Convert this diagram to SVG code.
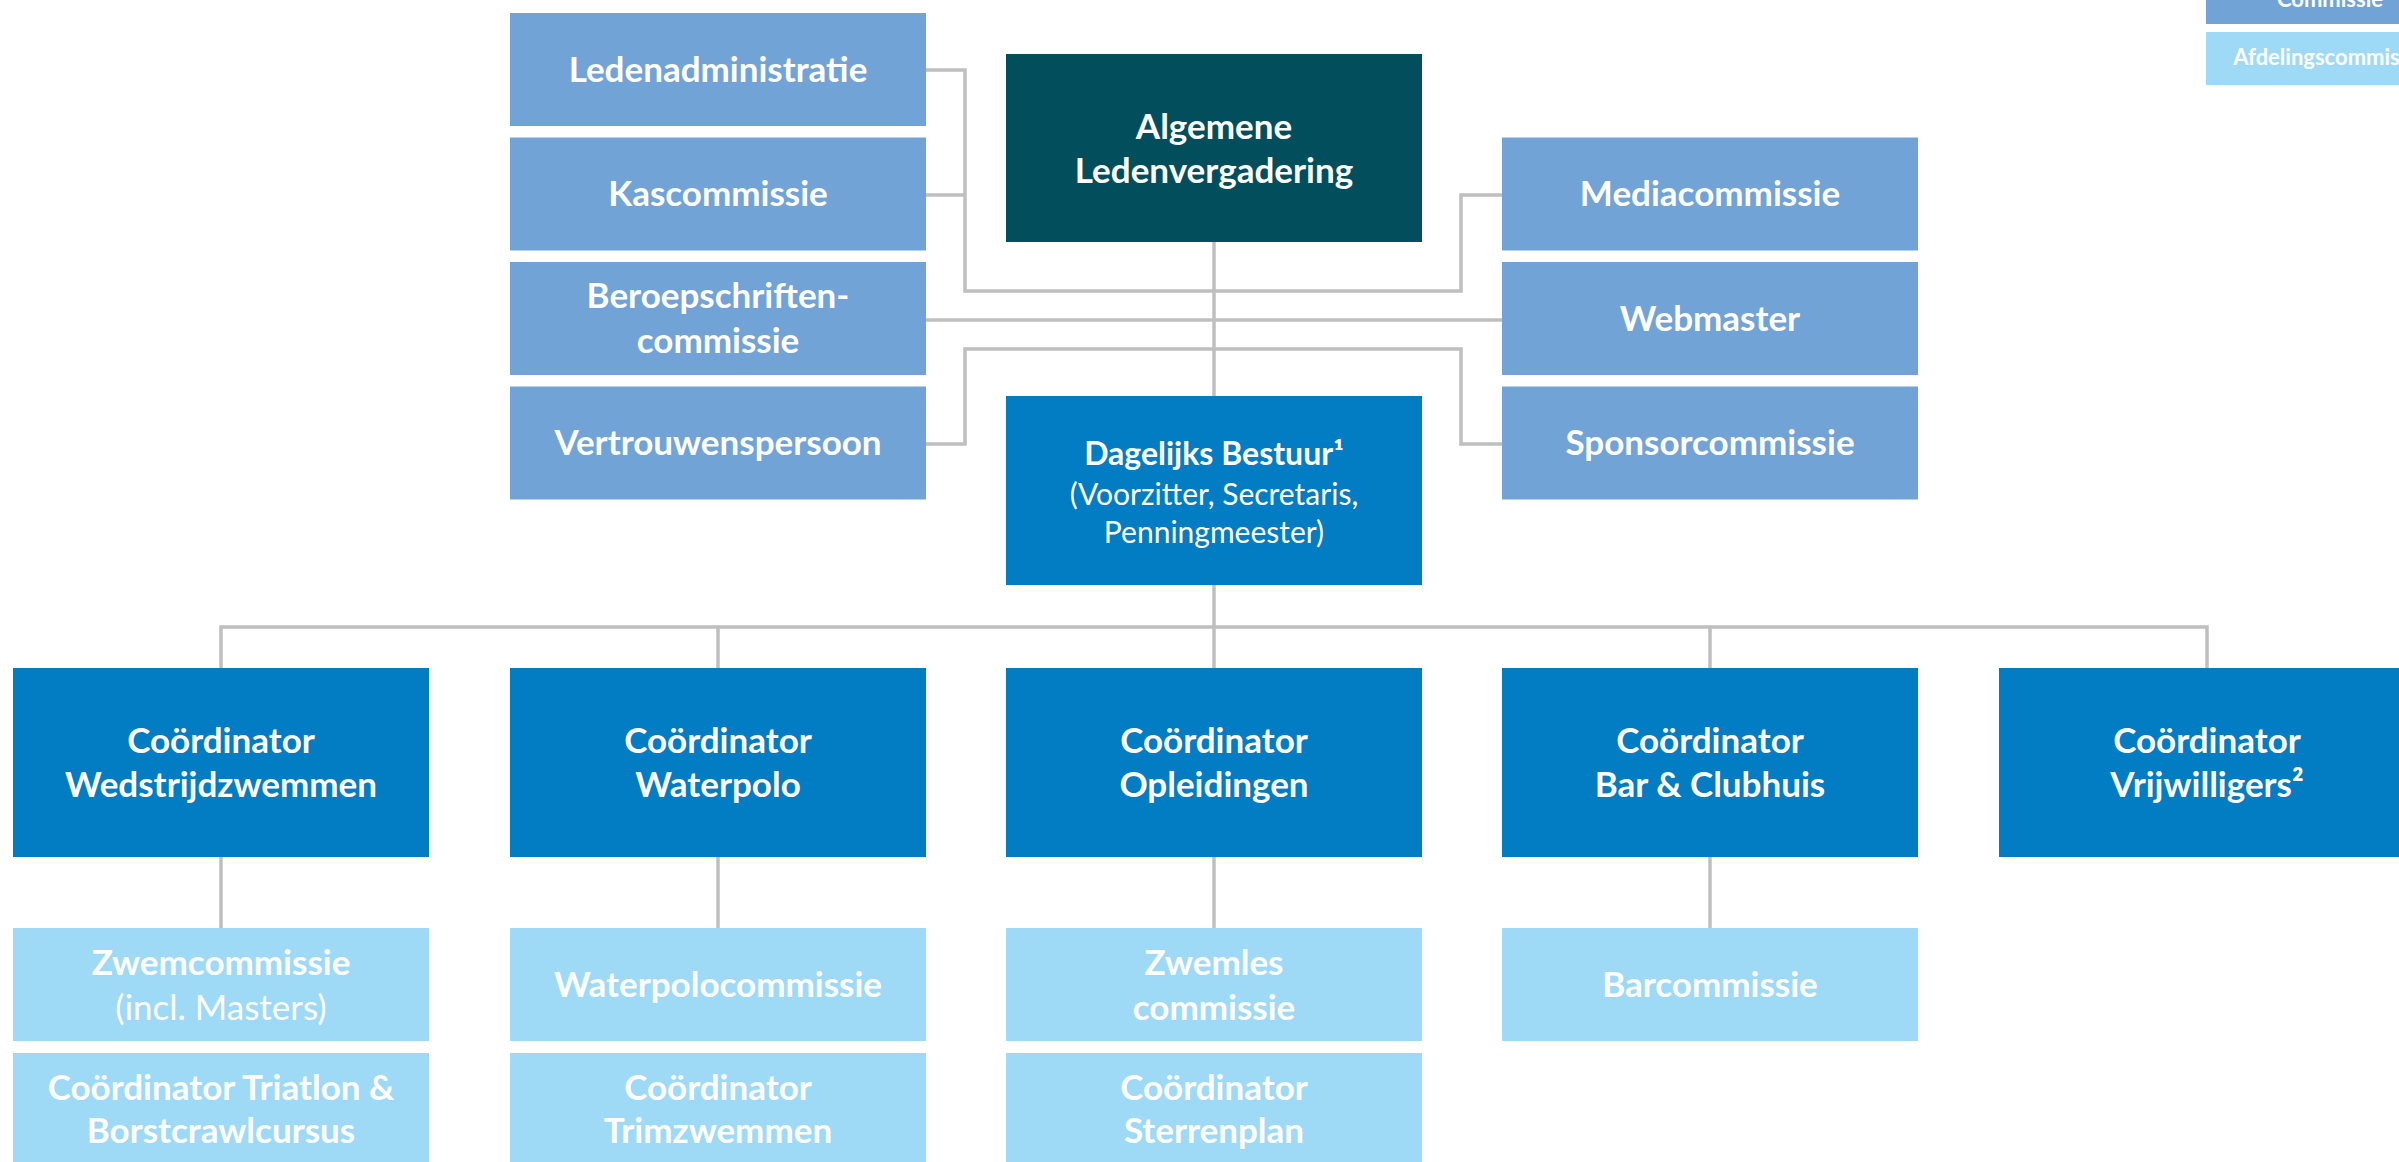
<svg xmlns="http://www.w3.org/2000/svg" width="2399" height="1162" viewBox="0 0 2399 1162">
<style>
  text { font-family: "Lato", "Liberation Sans", sans-serif; fill: #ffffff; text-anchor: middle; }
  .b { font-weight: 700; font-size: 35px; }
  .r { font-weight: 400; font-size: 35px; }
  .bs { font-weight: 700; font-size: 32px; }
  .rs { font-weight: 400; font-size: 30px; }
  .lg { font-weight: 700; font-size: 22px; }
  .com { fill: #71a3d6; }
  .alv { fill: #024e5d; }
  .crd { fill: #027cc2; }
  .afd { fill: #9edaf6; }
  .conn path { fill: none; stroke: #bfbfbf; stroke-width: 3.5; }
</style>
<rect width="2399" height="1162" fill="#ffffff"/>

<g class="conn" id="connectors">
  <path d="M926,70 H965 V291 H1461 V195 H1502"/>
  <path d="M926,195 H965"/>
  <path d="M926,320 H1502"/>
  <path d="M926,444 H965 V349 H1461 V444 H1502"/>
  <path d="M1214,242 V396"/>
  <path d="M1214,585 V627"/>
  <path d="M221,668 V627 H2207 V668"/>
  <path d="M718,627 V668"/>
  <path d="M1214,627 V668"/>
  <path d="M1710,627 V668"/>
  <path d="M221,857 V928"/>
  <path d="M718,857 V928"/>
  <path d="M1214,857 V928"/>
  <path d="M1710,857 V928"/>
</g>

<g id="legend-commissie"><rect class="com" x="2206" y="-29" width="250" height="53"/><text class="lg" x="2330" y="7">Commissie</text></g>
<g id="legend-afdeling"><rect class="afd" x="2206" y="32" width="250" height="53"/><text class="lg" x="2330" y="65">Afdelingscommissie</text></g>

<g id="ledenadministratie"><rect class="com" x="510" y="13" width="416" height="113"/><text class="b" x="718" y="82">Ledenadministratie</text></g>
<g id="kascommissie"><rect class="com" x="510" y="137.5" width="416" height="113"/><text class="b" x="718" y="206">Kascommissie</text></g>
<g id="beroepschriftencommissie"><rect class="com" x="510" y="262" width="416" height="113"/><text class="b" x="718" y="308">Beroepschriften-</text><text class="b" x="718" y="353">commissie</text></g>
<g id="vertrouwenspersoon"><rect class="com" x="510" y="386.5" width="416" height="113"/><text class="b" x="718" y="455">Vertrouwenspersoon</text></g>

<g id="mediacommissie"><rect class="com" x="1502" y="137.5" width="416" height="113"/><text class="b" x="1710" y="206">Mediacommissie</text></g>
<g id="webmaster"><rect class="com" x="1502" y="262" width="416" height="113"/><text class="b" x="1710" y="331">Webmaster</text></g>
<g id="sponsorcommissie"><rect class="com" x="1502" y="386.5" width="416" height="113"/><text class="b" x="1710" y="455">Sponsorcommissie</text></g>

<g id="alv"><rect class="alv" x="1006" y="54" width="416" height="188"/><text class="b" x="1214" y="139">Algemene</text><text class="b" x="1214" y="183">Ledenvergadering</text></g>

<g id="dagelijks-bestuur"><rect class="crd" x="1006" y="396" width="416" height="189"/><text class="bs" x="1214" y="465">Dagelijks Bestuur¹</text><text class="rs" x="1214" y="505">(Voorzitter, Secretaris,</text><text class="rs" x="1214" y="543">Penningmeester)</text></g>

<g id="coord-wedstrijdzwemmen"><rect class="crd" x="13" y="668" width="416" height="189"/><text class="b" x="221" y="753">Coördinator</text><text class="b" x="221" y="797">Wedstrijdzwemmen</text></g>
<g id="coord-waterpolo"><rect class="crd" x="510" y="668" width="416" height="189"/><text class="b" x="718" y="753">Coördinator</text><text class="b" x="718" y="797">Waterpolo</text></g>
<g id="coord-opleidingen"><rect class="crd" x="1006" y="668" width="416" height="189"/><text class="b" x="1214" y="753">Coördinator</text><text class="b" x="1214" y="797">Opleidingen</text></g>
<g id="coord-bar"><rect class="crd" x="1502" y="668" width="416" height="189"/><text class="b" x="1710" y="753">Coördinator</text><text class="b" x="1710" y="797">Bar &amp; Clubhuis</text></g>
<g id="coord-vrijwilligers"><rect class="crd" x="1999" y="668" width="416" height="189"/><text class="b" x="2207" y="753">Coördinator</text><text class="b" x="2207" y="797">Vrijwilligers²</text></g>

<g id="zwemcommissie"><rect class="afd" x="13" y="928" width="416" height="113"/><text class="b" x="221" y="975">Zwemcommissie</text><text class="r" x="221" y="1020">(incl. Masters)</text></g>
<g id="coord-triatlon"><rect class="afd" x="13" y="1053" width="416" height="113"/><text class="b" x="221" y="1100">Coördinator Triatlon &amp;</text><text class="b" x="221" y="1143">Borstcrawlcursus</text></g>
<g id="waterpolocommissie"><rect class="afd" x="510" y="928" width="416" height="113"/><text class="b" x="718" y="997">Waterpolocommissie</text></g>
<g id="coord-trimzwemmen"><rect class="afd" x="510" y="1053" width="416" height="113"/><text class="b" x="718" y="1100">Coördinator</text><text class="b" x="718" y="1143">Trimzwemmen</text></g>
<g id="zwemlescommissie"><rect class="afd" x="1006" y="928" width="416" height="113"/><text class="b" x="1214" y="975">Zwemles</text><text class="b" x="1214" y="1020">commissie</text></g>
<g id="coord-sterrenplan"><rect class="afd" x="1006" y="1053" width="416" height="113"/><text class="b" x="1214" y="1100">Coördinator</text><text class="b" x="1214" y="1143">Sterrenplan</text></g>
<g id="barcommissie"><rect class="afd" x="1502" y="928" width="416" height="113"/><text class="b" x="1710" y="997">Barcommissie</text></g>
</svg>
